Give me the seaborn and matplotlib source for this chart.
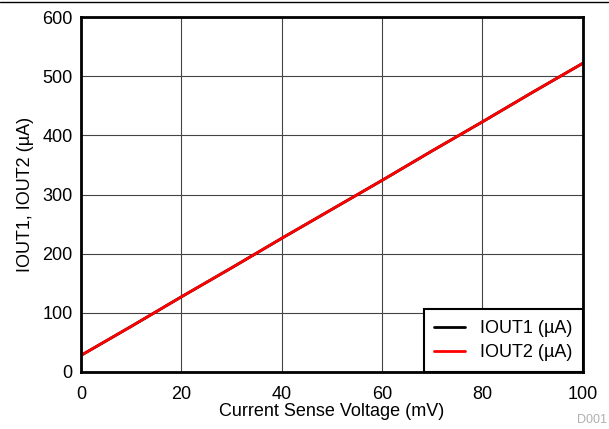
import matplotlib
matplotlib.use('Agg')
import matplotlib.pyplot as plt
import pandas as pd
import seaborn as sns
from matplotlib.lines import Line2D

# Данные
voltage_mv = [0, 10, 20, 30, 40, 50, 60, 70, 80, 90, 100]
iout1_ua = [28, 77, 127, 176, 226, 275, 324, 374, 423, 473, 522]
iout2_ua = [28, 77, 127, 176, 226, 275, 324, 374, 423, 473, 522]

df = pd.DataFrame({'v': voltage_mv, 'IOUT1 (µA)': iout1_ua, 'IOUT2 (µA)': iout2_ua})
melted = df.melt(id_vars='v', var_name='series', value_name='i')

sns.set_style('white')
plt.rcParams['font.family'] = ['Liberation Sans', 'DejaVu Sans']

fig = plt.figure(figsize=(6.09, 4.29), dpi=100)
ax = fig.add_axes([0.133, 0.133, 0.824, 0.827])

sns.lineplot(data=melted, x='v', y='i', hue='series', palette=['black', '#ff0000'],
             linewidth=2, ax=ax)

ax.set_xlim(0, 100)
ax.set_ylim(0, 600)
ax.set_xticks(range(0, 101, 20))
ax.set_yticks(range(0, 601, 100))
ax.grid(True, color='#444444', linewidth=0.8)
ax.tick_params(labelsize=13, length=0, labelcolor='black')
ax.tick_params(axis='x', pad=10)
ax.tick_params(axis='y', pad=6)
for s in ax.spines.values():
    s.set_linewidth(2)
    s.set_color('black')

ax.set_xlabel('Current Sense Voltage (mV)', fontsize=13, labelpad=0, color='black')
ax.set_ylabel('IOUT1, IOUT2 (µA)', fontsize=13, labelpad=6, color='black')

leg = ax.legend(loc='lower right', borderaxespad=0, fancybox=False, edgecolor='black',
                fontsize=13, framealpha=1, handlelength=1.7, labelspacing=0.4,
                borderpad=0.6, handletextpad=0.8, title=None)
leg.get_frame().set_linewidth(1.5)
for t in leg.get_texts():
    t.set_color('black')

fig.add_artist(Line2D([0, 1], [0.995, 0.995], color='black', linewidth=1))
fig.text(0.997, 0.008, 'D001', ha='right', va='bottom', fontsize=9, color='#b0b0b0')

fig.savefig('out.png', dpi=100)
